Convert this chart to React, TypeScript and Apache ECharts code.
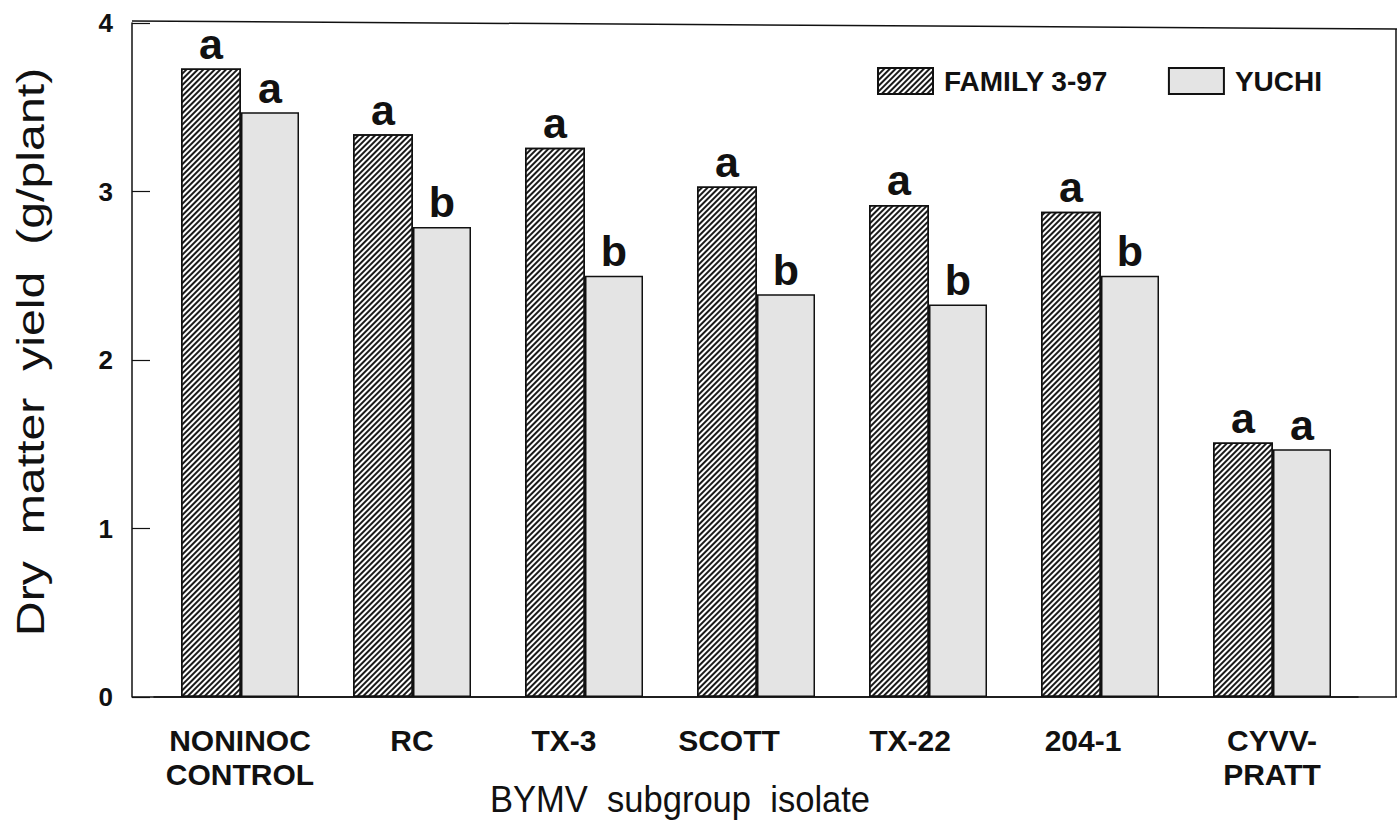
import React, { useEffect, useRef } from "react";
import * as echarts from "echarts";

const categories = ["NONINOC\nCONTROL", "RC", "TX-3", "SCOTT", "TX-22", "204-1", "CYVV-\nPRATT"];
const family397 = [3.73, 3.34, 3.26, 3.03, 2.92, 2.88, 1.51];
const yuchi = [3.47, 2.79, 2.5, 2.39, 2.33, 2.5, 1.47];
const familyLetters = ["a", "a", "a", "a", "a", "a", "a"];
const yuchiLetters = ["a", "b", "b", "b", "b", "b", "a"];
const yTicks = [0, 1, 2, 3, 4];

// label style tweak: right padding that nudges some tick labels left, as in the original print
const labelPadRight = [0, 0, 40, 54, 36, 34, 0];

const FONT = "'Liberation Sans', Arial, Helvetica, sans-serif";

export default function App() {
  const ref = useRef<HTMLDivElement>(null);
  useEffect(() => {
    if (!ref.current) return;
    const chart = echarts.init(ref.current, null, { renderer: "svg" });
    const letterLabel = (letters: string[]) => ({
      show: true,
      position: "top" as const,
      distance: 3,
      formatter: (p: any) => letters[p.dataIndex],
      fontFamily: FONT,
      fontWeight: "bold" as const,
      fontSize: 43,
      color: "#111",
    });
    chart.setOption({
      animation: false,
      backgroundColor: "#fff",
      textStyle: { fontFamily: FONT },
      grid: { left: 154, width: 1204, top: 23, height: 674, containLabel: false },
      legend: {
        left: 872,
        top: 62,
        itemWidth: 55,
        itemHeight: 26,
        itemGap: 60,
        icon: "rect",
        textStyle: { fontFamily: FONT, fontWeight: "bold", fontSize: 28, color: "#111", padding: [0, 0, 0, 6] },
        data: ["FAMILY 3-97", "YUCHI"],
      },
      xAxis: {
        type: "category",
        data: categories.map((c, i) => ({
          value: c,
          textStyle: { padding: [0, labelPadRight[i], 0, 0] },
        })),
        axisLine: { show: true, lineStyle: { color: "#111", width: 1.5 } },
        axisTick: { show: false },
        axisLabel: {
          fontFamily: FONT,
          fontWeight: "bold",
          fontSize: 30,
          color: "#111",
          margin: 26,
          lineHeight: 34,
          interval: 0,
        },
      },
      yAxis: {
        type: "value",
        min: yTicks[0],
        max: yTicks[yTicks.length - 1],
        interval: 1,
        offset: 22,
        axisLine: { show: true, lineStyle: { color: "#111", width: 1.5 } },
        axisTick: { show: true, inside: true, length: 18, lineStyle: { color: "#111", width: 1.2 } },
        splitLine: { show: false },
        axisLabel: {
          fontFamily: FONT,
          fontWeight: "bold",
          fontSize: 26,
          color: "#111",
          margin: 19,
        },
      },
      series: [
        {
          name: "FAMILY 3-97",
          type: "bar",
          data: family397,
          barWidth: 60,
          barGap: "0%",
          itemStyle: {
            color: "#ffffff",
            borderColor: "#111",
            borderWidth: 1.5,
            decal: {
              symbol: "rect",
              symbolSize: 1,
              dashArrayX: [1, 0],
              dashArrayY: [2, 2],
              rotation: -Math.PI / 4,
              color: "#1a1a1a",
            },
          },
          label: letterLabel(familyLetters),
        },
        {
          name: "YUCHI",
          type: "bar",
          data: yuchi,
          barWidth: 58,
          itemStyle: {
            color: "#e4e4e4",
            borderColor: "#111",
            borderWidth: 1.5,
          },
          label: letterLabel(yuchiLetters),
        },
      ],
      graphic: [
        {
          type: "line",
          shape: { x1: 132, y1: 21, x2: 1400, y2: 29 },
          style: { stroke: "#111", lineWidth: 1.5 },
          silent: true,
        },
        {
          type: "line",
          shape: { x1: 1396, y1: 29, x2: 1396, y2: 697 },
          style: { stroke: "#111", lineWidth: 1.5 },
          silent: true,
        },
        {
          type: "line",
          shape: { x1: 132, y1: 697, x2: 1400, y2: 697 },
          style: { stroke: "#111", lineWidth: 1.5 },
          silent: true,
        },
        {
          type: "text",
          x: 31,
          y: 352,
          rotation: Math.PI / 2,
          scaleX: 1.27,
          style: {
            text: "Dry  matter  yield  (g/plant)",
            fontFamily: FONT,
            fontSize: 38,
            fill: "#111",
            align: "center",
            verticalAlign: "middle",
          },
        },
        {
          type: "text",
          x: 680,
          y: 799,
          scaleX: 0.96,
          style: {
            text: "BYMV  subgroup  isolate",
            fontFamily: FONT,
            fontSize: 36,
            fill: "#111",
            align: "center",
            verticalAlign: "middle",
          },
        },
      ],
    });
    return () => chart.dispose();
  }, []);
  return <div ref={ref} style={{ width: 1397, height: 823, position: "absolute", left: 0, top: 0 }} />;
}
